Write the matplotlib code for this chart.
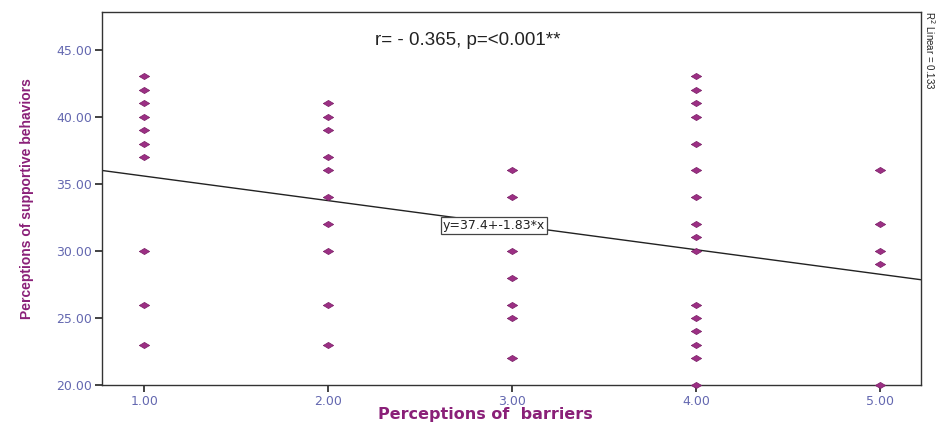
import matplotlib
matplotlib.use("Agg")
import matplotlib.pyplot as plt
import numpy as np

# Data
barriers_1 = [43, 42, 41, 40, 39, 38, 37, 30, 26, 23]
barriers_2 = [41, 40, 39, 37, 36, 34, 32, 30, 26, 23]
barriers_3 = [36, 34, 30, 28, 26, 25, 22]
barriers_4 = [43, 42, 41, 40, 38, 36, 34, 32, 31, 30, 26, 25, 24, 23, 22, 20]
barriers_5 = [36, 32, 30, 29, 20]
columns = [1, 2, 3, 4, 5]
intercept = 37.4
slope = -1.83
x_ticks = [1, 2, 3, 4, 5]
y_ticks = [20, 25, 30, 35, 40, 45]

groups = [barriers_1, barriers_2, barriers_3, barriers_4, barriers_5]
xs = np.concatenate([[c] * len(g) for c, g in zip(columns, groups)])
ys = np.concatenate(groups)

fig = plt.figure(figsize=(9.41, 4.26), dpi=100)
ax = fig.add_axes([0.1084, 0.0962, 0.8703, 0.8756])

xmin, xmax = 0.77, 5.22
ymin, ymax = 20, 47.8
ax.set_xlim(xmin, xmax)
ax.set_ylim(ymin, ymax)

diamond = [(-1, 0), (0, 0.6), (1, 0), (0, -0.6), (-1, 0)]
ax.scatter(xs, ys, marker=diamond, s=55, color="#9c2f84", edgecolors="#7a1f66",
           linewidths=0.5, zorder=3, clip_on=False)

lx = np.array([xmin, xmax])
ax.plot(lx, intercept + slope * lx, color="#222222", lw=1.0, zorder=2)

ax.set_xticks(x_ticks)
ax.set_xticklabels([f"{v:.2f}" for v in x_ticks])
ax.set_yticks(y_ticks)
ax.set_yticklabels([f"{v:.2f}" for v in y_ticks])
ax.tick_params(axis="both", direction="out", length=5, width=1.2, color="#222222",
               labelsize=9, labelcolor="#6468b0", pad=2)
for s in ax.spines.values():
    s.set_color("#333333")
    s.set_linewidth(1.0)

ax.set_xlabel("Perceptions of  barriers", fontsize=11.5, fontweight="bold",
              color="#8a2078")
ax.xaxis.set_label_coords(0.468, -0.06)
ax.set_ylabel("Perceptions of supportive behaviors", fontsize=10,
              family="Liberation Sans", fontweight="bold", color="#8a2078",
              labelpad=16)

ax.text(2.76, 45.7, "r= - 0.365, p=<0.001**", fontsize=13.5, ha="center",
        va="center", color="#222222", family="Liberation Sans")
ax.text(2.9, 31.9, "y=37.4+-1.83*x", fontsize=9, ha="center", va="center",
        color="#222222",
        bbox=dict(boxstyle="square,pad=0.15", facecolor="white",
                  edgecolor="#444444", lw=0.9), zorder=4)

fig.text(0.988, 0.975, "R$^2$ Linear = 0.133", rotation=-90, fontsize=7,
         ha="center", va="top", family="Liberation Sans", color="#222222")

fig.savefig("out.png", dpi=100)
